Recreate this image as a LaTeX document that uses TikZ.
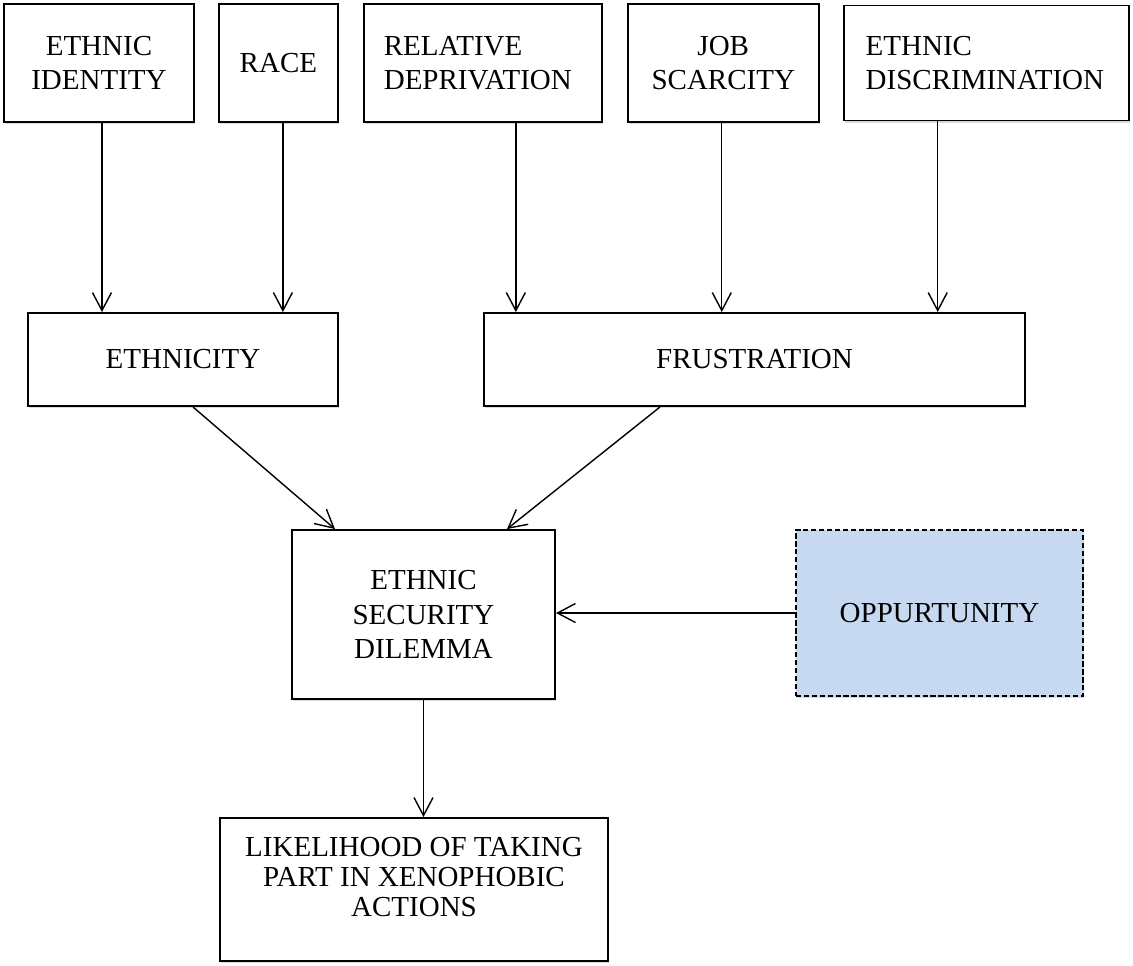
\documentclass[tikz,border=0pt]{standalone}
\usepackage{fontspec}
\setmainfont{Liberation Serif}
\usepackage{xcolor}
\usepackage{tikz}
\usetikzlibrary{arrows.meta, positioning, shadows}
\definecolor{oppblue}{HTML}{C6D9F1}
\tikzstyle{varbox} = [
rectangle,
draw=black,
fill=white,
line width=1.1pt,
align=center,
inner sep=2pt,
font=\fontsize{16.5}{19.4}\selectfont,
drop shadow={shadow xshift=0.8pt, shadow yshift=-1.4pt, opacity=0.3}
]
\tikzstyle{oppbox} = [
varbox,
fill=oppblue,
dash pattern=on 3pt off 1.5pt
]
\tikzstyle{arrow} = [
line width=0.8pt,
-{Straight Barb[length=3.6mm, width=3.8mm]},
draw=black
]

\begin{document}
\begin{tikzpicture}
			\useasboundingbox (0,0) rectangle (22.66,-19.3);
			
			\node (id) [varbox, minimum width=3.8cm, minimum height=2.36cm, anchor=north west] at (0.06,-0.06) {ETHNIC\\IDENTITY};
			
			\node (race) [varbox, minimum width=2.38cm, minimum height=2.36cm, right=0.46cm of id] {RACE};
			
			\node (reldep) [varbox, align=left, text width=3.96cm, minimum width=4.76cm, minimum height=2.36cm, right=0.48cm of race] {RELATIVE\\DEPRIVATION};
			
			\node (job) [varbox, minimum width=3.82cm, minimum height=2.36cm, right=0.48cm of reldep] {JOB\\SCARCITY};
			
			\node (disc) [varbox, align=left, text width=4.82cm, minimum width=5.7cm, minimum height=2.3cm, right=0.46cm of job] {ETHNIC\\DISCRIMINATION};
			
			\node (eth) [varbox, minimum width=6.2cm, minimum height=1.86cm] at (3.66,-7.19) {ETHNICITY};
			
			\node (frust) [varbox, minimum width=10.82cm, minimum height=1.86cm] at (15.09,-7.19) {FRUSTRATION};
			
			\node (esd) [varbox, minimum width=5.26cm, minimum height=3.38cm] at (8.47,-12.29) {ETHNIC\\SECURITY\\DILEMMA};
			
			\node (opp) [oppbox, minimum width=5.74cm, minimum height=3.32cm] at (18.79,-12.26) {OPPURTUNITY};
			
			\node (like) [varbox, font=\fontsize{16.5}{16.9}\selectfont, minimum width=7.76cm, minimum height=2.86cm, text depth=0.5cm] at (8.28,-17.79) {LIKELIHOOD OF TAKING\\PART IN XENOPHOBIC\\ACTIONS};
			
			\draw [arrow] ([xshift=0.06cm]id.south) -- ([xshift=0.06cm]id.south |- eth.north);
			\draw [arrow] ([xshift=0.09cm]race.south) -- ([xshift=0.09cm]race.south |- eth.north);
			\draw [arrow] ([xshift=0.66cm]reldep.south) -- ([xshift=0.66cm]reldep.south |- frust.north);
			\draw [arrow] ([xshift=-0.03cm]job.south) -- ([xshift=-0.03cm]job.south |- frust.north);
			\draw [arrow] ([xshift=-0.97cm]disc.south) -- ([xshift=-0.97cm]disc.south |- frust.north);
			\draw [arrow] ([xshift=0.2cm]eth.south) -- ([xshift=-1.77cm]esd.north);
			\draw [arrow] ([xshift=-1.89cm]frust.south) -- ([xshift=1.67cm]esd.north);
			\draw [arrow] (opp.west) -- (opp.west -| esd.east);
			\draw [arrow] (esd.south) -- (esd.south |- like.north);
			
		\end{tikzpicture}
\end{document}
